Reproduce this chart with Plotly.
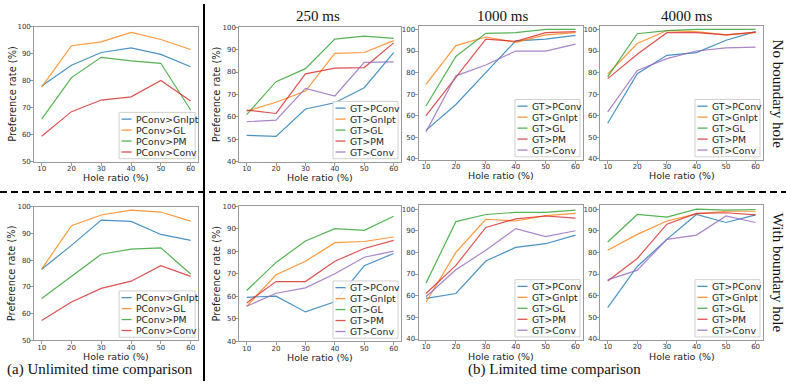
import plotly.graph_objects as go

W, H = 786, 385

hole_ratio = [10, 20, 30, 40, 50, 60]
unl_labels = ["PConv>GnIpt", "PConv>GL", "PConv>PM", "PConv>Conv"]
lim_labels = ["GT>PConv", "GT>GnIpt", "GT>GL", "GT>PM", "GT>Conv"]
col_titles = ["250 ms", "1000 ms", "4000 ms"]
row_labels = ["No boundary hole", "With boundary hole"]
captions = ["(a) Unlimited time comparison", "(b) Limited time comparison"]

# No boundary hole, unlimited time
nb_unl_gnipt = [78.0, 85.7, 90.4, 92.1, 89.7, 85.1]
nb_unl_gl = [77.6, 92.9, 94.3, 97.8, 95.2, 91.5]
nb_unl_pm = [65.7, 81.1, 88.6, 87.3, 86.4, 69.1]
nb_unl_conv = [59.4, 68.5, 72.8, 74.0, 80.0, 72.4]

# No boundary hole, 250 ms
nb_250_pconv = [51.7, 51.3, 63.5, 66.3, 73.0, 88.7]
nb_250_gnipt = [62.5, 66.5, 71.5, 88.3, 88.7, 94.0]
nb_250_gl = [61.0, 75.7, 81.5, 94.7, 96.0, 95.0]
nb_250_pm = [63.0, 61.5, 79.2, 81.7, 82.0, 93.0]
nb_250_conv = [57.8, 58.5, 72.7, 69.3, 84.3, 84.5]

# No boundary hole, 1000 ms
nb_1000_pconv = [53.2, 65.2, 80.0, 94.7, 95.5, 97.3]
nb_1000_gnipt = [74.5, 92.5, 96.5, 94.0, 97.5, 98.5]
nb_1000_gl = [64.5, 87.5, 98.2, 98.5, 100.0, 100.0]
nb_1000_pm = [60.0, 77.5, 95.5, 94.5, 98.5, 99.0]
nb_1000_conv = [52.5, 78.5, 83.5, 90.0, 90.0, 93.2]

# No boundary hole, 4000 ms
nb_4000_pconv = [56.5, 79.5, 88.0, 89.3, 95.0, 99.0]
nb_4000_gnipt = [79.3, 93.5, 99.5, 99.0, 97.5, 98.5]
nb_4000_gl = [78.0, 98.0, 99.5, 100.0, 100.0, 100.0]
nb_4000_pm = [77.2, 88.5, 98.5, 98.5, 97.5, 98.8]
nb_4000_conv = [61.8, 81.0, 86.5, 90.0, 91.5, 91.8]

# With boundary hole, unlimited time
wb_unl_gnipt = [76.6, 85.5, 95.0, 94.5, 89.6, 87.4]
wb_unl_gl = [76.6, 92.9, 96.9, 98.7, 98.0, 94.6]
wb_unl_pm = [65.6, 73.9, 82.2, 84.1, 84.6, 74.8]
wb_unl_conv = [57.4, 64.3, 69.4, 72.1, 77.9, 73.9]

# With boundary hole, 250 ms
wb_250_pconv = [59.5, 60.0, 53.0, 57.5, 73.5, 79.0]
wb_250_gnipt = [55.5, 69.5, 75.5, 83.8, 84.3, 86.3]
wb_250_gl = [62.5, 75.0, 84.5, 90.0, 89.3, 95.5]
wb_250_pm = [57.0, 66.5, 66.5, 75.5, 81.2, 84.8]
wb_250_conv = [55.5, 61.3, 63.7, 70.0, 77.3, 80.0]

# With boundary hole, 1000 ms
wb_1000_pconv = [58.8, 61.0, 76.0, 82.3, 84.0, 88.0]
wb_1000_gnipt = [57.0, 80.0, 95.3, 94.5, 97.0, 98.0]
wb_1000_gl = [65.8, 94.2, 97.5, 98.5, 98.5, 99.5]
wb_1000_pm = [61.0, 74.0, 91.5, 95.5, 96.8, 95.8]
wb_1000_conv = [59.5, 72.0, 81.0, 91.0, 87.3, 90.0]

# With boundary hole, 4000 ms
wb_4000_pconv = [54.5, 73.5, 86.0, 97.5, 93.8, 97.3]
wb_4000_gnipt = [81.0, 88.3, 94.5, 97.8, 99.0, 99.0]
wb_4000_gl = [84.8, 97.5, 96.3, 100.0, 99.5, 99.8]
wb_4000_pm = [66.8, 77.2, 93.0, 98.0, 98.3, 97.3]
wb_4000_conv = [67.3, 71.8, 86.0, 88.0, 96.8, 93.8]

unl_colors = ["#1f77b4", "#ff7f0e", "#2ca02c", "#d62728"]
lim_colors = ["#1f77b4", "#ff7f0e", "#2ca02c", "#d62728", "#9467bd"]

panels = [
    dict(series=[nb_unl_gnipt, nb_unl_gl, nb_unl_pm, nb_unl_conv], labels=unl_labels, colors=unl_colors,
         xpx=(34.2, 198.1), ypx=(23.0, 161.0), yr=[50, 100], ticks=[50, 60, 70, 80, 90, 100], ytitle=True, lw=76),
    dict(series=[nb_250_pconv, nb_250_gnipt, nb_250_gl, nb_250_pm, nb_250_conv], labels=lim_labels, colors=lim_colors,
         xpx=(239.3, 401.0), ypx=(23.7, 161.0), yr=[40, 100], ticks=[40, 50, 60, 70, 80, 90, 100], ytitle=True, lw=65),
    dict(series=[nb_1000_pconv, nb_1000_gnipt, nb_1000_gl, nb_1000_pm, nb_1000_conv], labels=lim_labels, colors=lim_colors,
         xpx=(418.5, 583.0), ypx=(22.7, 159.0), yr=[39.6, 101.5], ticks=[40, 50, 60, 70, 80, 90, 100], ytitle=False, lw=65),
    dict(series=[nb_4000_pconv, nb_4000_gnipt, nb_4000_gl, nb_4000_pm, nb_4000_conv], labels=lim_labels, colors=lim_colors,
         xpx=(600.3, 763.0), ypx=(22.7, 159.0), yr=[39.6, 101.5], ticks=[40, 50, 60, 70, 80, 90, 100], ytitle=False, lw=65),
    dict(series=[wb_unl_gnipt, wb_unl_gl, wb_unl_pm, wb_unl_conv], labels=unl_labels, colors=unl_colors,
         xpx=(34.2, 198.1), ypx=(207.0, 343.3), yr=[50, 100], ticks=[50, 60, 70, 80, 90, 100], ytitle=True, lw=76),
    dict(series=[wb_250_pconv, wb_250_gnipt, wb_250_gl, wb_250_pm, wb_250_conv], labels=lim_labels, colors=lim_colors,
         xpx=(239.3, 401.0), ypx=(206.5, 344.3), yr=[40, 100], ticks=[40, 50, 60, 70, 80, 90, 100], ytitle=True, lw=65),
    dict(series=[wb_1000_pconv, wb_1000_gnipt, wb_1000_gl, wb_1000_pm, wb_1000_conv], labels=lim_labels, colors=lim_colors,
         xpx=(418.5, 583.0), ypx=(205.0, 343.0), yr=[39.6, 102.0], ticks=[40, 50, 60, 70, 80, 90, 100], ytitle=False, lw=65),
    dict(series=[wb_4000_pconv, wb_4000_gnipt, wb_4000_gl, wb_4000_pm, wb_4000_conv], labels=lim_labels, colors=lim_colors,
         xpx=(600.3, 763.0), ypx=(205.0, 343.0), yr=[39.6, 102.0], ticks=[40, 50, 60, 70, 80, 90, 100], ytitle=False, lw=65),
]


def px2x(p):
    return p / W


def px2y(p):
    return 1 - p / H


fig = go.Figure()
shapes = []
annotations = []
layout = {}
SANS = "DejaVu Sans"
SERIF = "Liberation Serif"
frame = "#999999"

for i, pnl in enumerate(panels):
    k = i + 1
    xa = "x" if k == 1 else f"x{k}"
    ya = "y" if k == 1 else f"y{k}"
    for vals, lab, col in zip(pnl["series"], pnl["labels"], pnl["colors"]):
        fig.add_trace(go.Scatter(x=hole_ratio, y=vals, mode="lines", name=lab,
                                 line=dict(color=col, width=1.2), opacity=0.8,
                                 xaxis=xa, yaxis=ya, showlegend=False, hoverinfo="skip"))
    x0, x1 = pnl["xpx"]
    y0, y1 = pnl["ypx"]
    axis_common = dict(showline=True, linecolor=frame, linewidth=1, mirror=True, showgrid=False,
                       zeroline=False, ticks="outside", ticklen=3, tickcolor=frame, tickwidth=1,
                       tickfont=dict(family=SANS, size=7, color="#333333"))
    layout["xaxis" if k == 1 else f"xaxis{k}"] = dict(
        domain=[px2x(x0), px2x(x1)], range=[7.5, 62.5], tickvals=hole_ratio,
        anchor=ya, ticklabelstandoff=-3, **axis_common)
    layout["yaxis" if k == 1 else f"yaxis{k}"] = dict(
        domain=[px2y(y1), px2y(y0)], range=pnl["yr"], tickvals=pnl["ticks"],
        anchor=xa, ticklabelstandoff=-2, **axis_common)
    # x title
    annotations.append(dict(text="Hole ratio (%)", xref="paper", yref="paper",
                            x=px2x((x0 + x1) / 2), y=px2y(y1 + 16.6), xanchor="center", yanchor="middle",
                            showarrow=False, font=dict(family=SANS, size=9.5, color="#222")))
    if pnl["ytitle"]:
        annotations.append(dict(text="Preference rate (%)", xref="paper", yref="paper",
                                x=px2x(x0 - 22.5), y=px2y((y0 + y1) / 2), xanchor="center", yanchor="middle",
                                textangle=-90, showarrow=False, font=dict(family=SANS, size=9.8, color="#222")))
    # manual legend box
    n = len(pnl["labels"])
    step = 11.2
    bw = pnl["lw"]
    bh = n * step + 2.5
    br = x1 - 3
    bb = y1 - 3
    bl = br - bw
    bt = bb - bh
    shapes.append(dict(type="rect", xref="paper", yref="paper", x0=px2x(bl), x1=px2x(br),
                       y0=px2y(bb), y1=px2y(bt), line=dict(color="#d0d0d0", width=1),
                       fillcolor="rgba(255,255,255,0.85)", layer="above"))
    for j, (lab, col) in enumerate(zip(pnl["labels"], pnl["colors"])):
        cy = bt + 1.25 + step * (j + 0.5)
        shapes.append(dict(type="line", xref="paper", yref="paper", x0=px2x(bl + 2.5), x1=px2x(bl + 12.5),
                           y0=px2y(cy), y1=px2y(cy), line=dict(color=col, width=1.3), opacity=0.8, layer="above"))
        annotations.append(dict(text=lab, xref="paper", yref="paper", x=px2x(bl + 14.5), y=px2y(cy),
                                xanchor="left", yanchor="middle", showarrow=False,
                                font=dict(family=SANS, size=9.3, color="#222")))

# column titles
for t, cx in zip(col_titles, [318, 502, 686]):
    annotations.append(dict(text=t, xref="paper", yref="paper", x=px2x(cx), y=px2y(12),
                            xanchor="center", yanchor="middle", showarrow=False,
                            font=dict(family=SERIF, size=15, color="#111")))
# row labels
for t, cy in zip(row_labels, [92, 274]):
    annotations.append(dict(text=t, xref="paper", yref="paper", x=px2x(777.5), y=px2y(cy),
                            xanchor="center", yanchor="middle", textangle=90, showarrow=False,
                            font=dict(family=SERIF, size=15, color="#111")))
# captions
for t, cx in zip(captions, [100, 554]):
    annotations.append(dict(text=t, xref="paper", yref="paper", x=px2x(cx), y=px2y(373.5),
                            xanchor="center", yanchor="middle", showarrow=False,
                            font=dict(family=SERIF, size=15, color="#111")))

# dividers
shapes.append(dict(type="line", xref="paper", yref="paper", x0=px2x(204), x1=px2x(204), y0=0, y1=1,
                   line=dict(color="black", width=2), layer="above"))
shapes.append(dict(type="line", xref="paper", yref="paper", x0=0, x1=1, y0=px2y(192), y1=px2y(192),
                   line=dict(color="black", width=2, dash="7px,4px"), layer="above"))

fig.update_layout(width=W, height=H, margin=dict(l=0, r=0, t=0, b=0),
                  paper_bgcolor="white", plot_bgcolor="white", showlegend=False,
                  shapes=shapes, annotations=annotations, **layout)

fig.write_html("out.html", config={"displayModeBar": False},
               post_script="document.body.style.margin='0px';document.body.style.overflow='hidden';")
